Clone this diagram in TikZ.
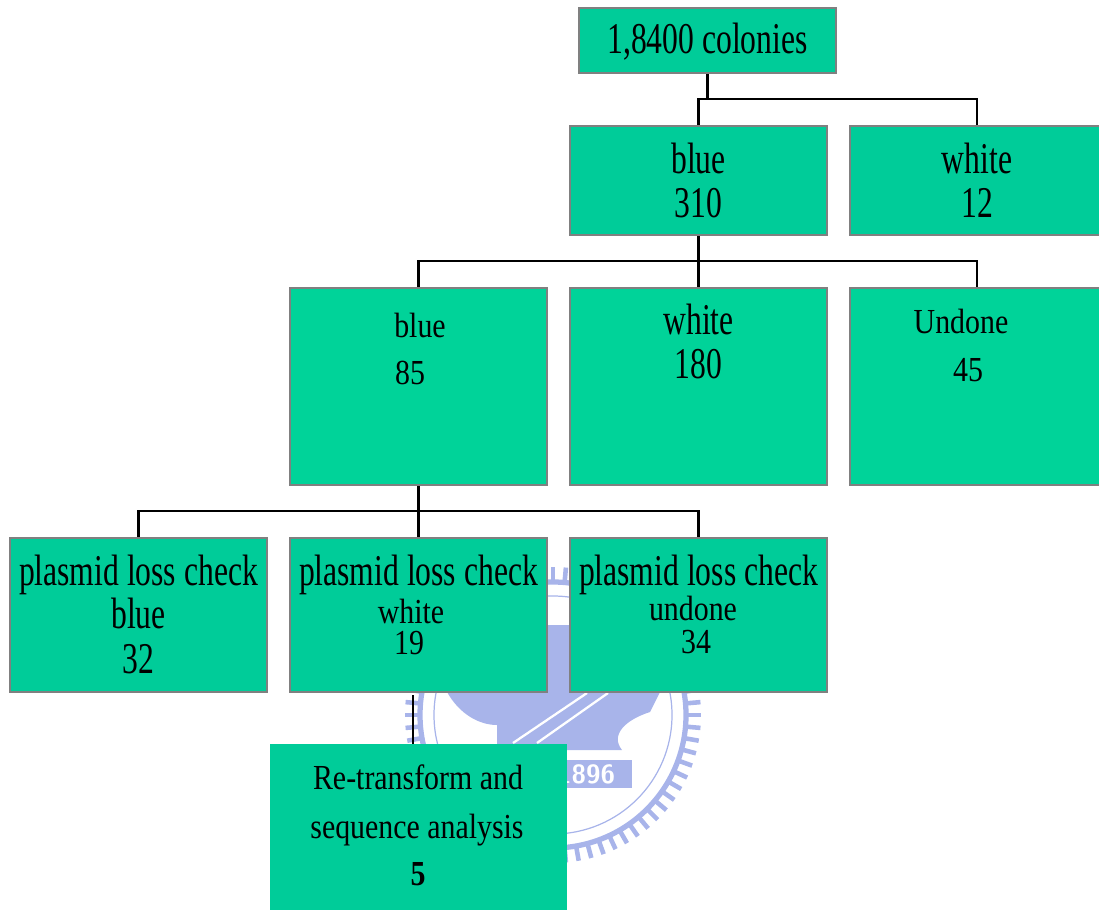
\documentclass[tikz,border=0pt]{standalone}
\usepackage{fontspec}
\setmainfont[FakeStretch=0.72]{Liberation Serif}
\newfontfamily\smallfont[FakeStretch=0.85]{Liberation Serif}
\definecolor{boxgreen}{HTML}{00CC99}
\definecolor{boxlight}{HTML}{00D399}
\definecolor{sealblue}{HTML}{A8B4EA}
\tikzset{
	box/.style={draw=gray,line width=1.2pt,fill=boxgreen,minimum width=5.14cm,inner sep=0pt,align=center,font=\fontsize{25}{25}\selectfont},
	lightbox/.style={box,fill=boxlight},
	plainbox/.style={fill=boxgreen,inner sep=0pt},
	big/.style={anchor=base,inner sep=0pt,font=\fontsize{25}{25}\selectfont},
	small/.style={anchor=base,inner sep=0pt,font=\smallfont\fontsize{20}{20}\selectfont},
	wire/.style={draw=black,line width=1.2pt,line join=miter},
}
\begin{document}
\begin{tikzpicture}
	\useasboundingbox (0,0) rectangle (21.98,18.2);
	% seal behind the boxes
	\begin{scope}[sealblue]
		\coordinate (seal) at (11.06,3.9);
		\foreach \a in {0,5,...,355}
			\draw[shift={(seal)},line width=2.6pt] (\a:2.7) -- (\a:2.96);
		\draw[line width=3pt] (seal) circle (2.66);
		\draw[line width=0.7pt] (seal) circle (2.38);
		\fill (8.94,4.36) .. controls (9.2,3.9) and (9.6,3.7) .. (9.94,3.7) -- (9.94,3.2) -- (12.44,3.2) .. controls (12.2,3.5) and (12.5,3.8) .. (13,3.96) -- (13.2,4.36) -- (11.5,4.36) -- (11.5,5.7) -- (10.9,5.7) -- (10.9,4.36) -- cycle;
		\fill (11.34,2.44) rectangle (12.64,3);
		\node[text=white,font=\sffamily\bfseries\fontsize{15}{15}\selectfont] (year) at (11.72,2.72) {1896};
		\draw[white,line width=1.3pt] (10.26,3.34) -- (11.74,4.34);
		\draw[white,line width=1.3pt] (10.74,3.34) -- (12.16,4.34);
	\end{scope}
	% boxes
	\node[box,minimum height=1.3cm] (root) at (14.15,17.39) {};
	\node[box,minimum height=2.18cm] (blueA) at (13.97,14.59) {blue\\310};
	\node[box,minimum width=5.08cm,minimum height=2.18cm] (whiteA) at (19.54,14.59) {white\\12};
	\node[lightbox,minimum height=3.94cm] (blueB) at (8.37,10.47) {};
	\node[lightbox,minimum height=3.94cm] (whiteB) at (13.97,10.47) {};
	\node[lightbox,minimum width=5.08cm,minimum height=3.94cm] (undoneB) at (19.54,10.47) {};
	\node[box,minimum height=3.08cm] (checkA) at (2.77,5.9) {};
	\node[box,minimum height=3.08cm] (checkB) at (8.37,5.9) {};
	\node[box,minimum height=3.08cm] (checkC) at (13.97,5.9) {};
	\node[plainbox,minimum width=5.94cm,minimum height=3.32cm] (seqbox) at (8.37,1.66) {};
	% texts
	\node[big] (troot) at (14.15,17.12) {1,8400 colonies};
	\node[small] (tblueB) at (8.4,11.46) {blue};
	\node[small] (nblueB) at (8.2,10.52) {85};
	\node[big] (twhiteB) at (13.97,11.52) {white};
	\node[big] (nwhiteB) at (13.97,10.64) {180};
	\node[small] (tundoneB) at (19.22,11.54) {Undone};
	\node[small] (nundoneB) at (19.36,10.58) {45};
	\node[big] (pA) at (2.77,6.5) {plasmid loss check};
	\node[big] (tA) at (2.77,5.64) {blue};
	\node[big] (nA) at (2.77,4.74) {32};
	\node[big] (pB) at (8.37,6.5) {plasmid loss check};
	\node[small] (tB) at (8.22,5.74) {white};
	\node[small] (nB) at (8.18,5.12) {19};
	\node[big] (pC) at (13.97,6.5) {plasmid loss check};
	\node[small] (tC) at (13.86,5.8) {undone};
	\node[small] (nC) at (13.92,5.14) {34};
	\node[small] (sA) at (8.36,2.42) {Re-transform and};
	\node[small] (sB) at (8.34,1.44) {sequence analysis};
	\node[small,font=\smallfont\bfseries\fontsize{20}{20}\selectfont] (sC) at (8.36,0.5) {5};
	% connectors
	\coordinate (busA) at (14.15,16.22);
	\coordinate (busB) at (13.97,12.98);
	\coordinate (busC) at (8.37,7.98);
	\coordinate (stub) at (8.26,4.3);
	\draw[wire] (root.south) -- (busA);
	\draw[wire] (blueA.north) -- (blueA.north |- busA) -- (whiteA.north |- busA) -- (whiteA.north);
	\draw[wire] (blueA.south) -- (busB);
	\draw[wire] (blueB.north) -- (blueB.north |- busB) -- (undoneB.north |- busB) -- (undoneB.north);
	\draw[wire] (busB) -- (whiteB.north);
	\draw[wire] (blueB.south) -- (busC);
	\draw[wire] (checkA.north) -- (checkA.north |- busC) -- (checkC.north |- busC) -- (checkC.north);
	\draw[wire] (busC) -- (checkB.north);
	\draw[wire] (stub) -- (stub |- seqbox.north);
\end{tikzpicture}
\end{document}
